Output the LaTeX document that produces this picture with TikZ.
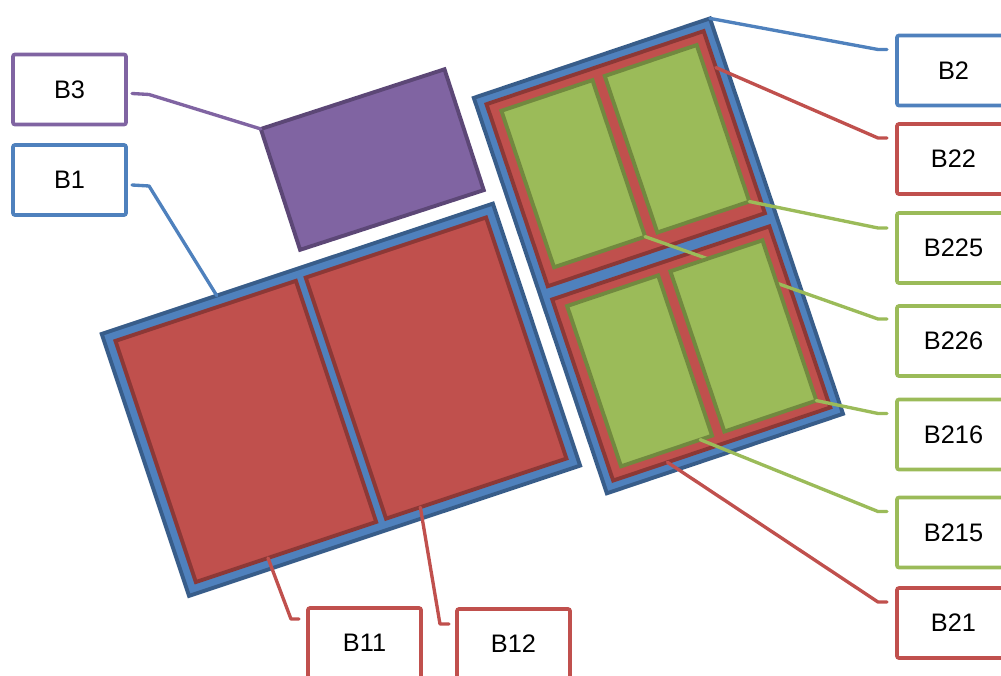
\documentclass[tikz,border=0pt]{standalone}
\usepackage{fontspec}
\setmainfont{Liberation Sans}
\usetikzlibrary{calc}

\definecolor{bfill}{HTML}{4F81BD}
\definecolor{bline}{HTML}{385D8A}
\definecolor{rfill}{HTML}{C0504D}
\definecolor{rline}{HTML}{8C3836}
\definecolor{gfill}{HTML}{9BBB59}
\definecolor{gline}{HTML}{71893F}
\definecolor{pfill}{HTML}{8064A2}
\definecolor{pline}{HTML}{5C4776}

\tikzset{
  piece/.style={rectangle, inner sep=0pt, outer sep=0pt, line width=1.1pt},
  bluepiece/.style={piece, fill=bfill, draw=bline},
  redpiece/.style={piece, fill=rfill, draw=rline},
  greenpiece/.style={piece, fill=gfill, draw=gline},
  purplepiece/.style={piece, fill=pfill, draw=pline},
  tag/.style={rectangle, draw=#1, fill=white, line width=1.05pt,
    rounded corners=0.6pt, minimum width=1.13cm, minimum height=0.70cm,
    inner sep=0pt, outer sep=0pt, font=\fontsize{7.2pt}{8.6pt}\selectfont},
  lead/.style={draw=#1, line width=0.95pt, line cap=round, line join=round},
}

\begin{document}
\begin{tikzpicture}[x=0.01cm, y=-0.01cm]
\useasboundingbox (0,0) rectangle (1001,675);
\clip (0,0) rectangle (1001,675);

% callout labels
\node[tag=pfill] (L3)   at (69.5,89.5)  {B3};
\node[tag=bfill] (L1)   at (69.5,180)   {B1};
\node[tag=bfill] (L2)   at (953.5,70.5) {B2};
\node[tag=rfill] (L22)  at (953.5,159)  {B22};
\node[tag=gfill] (L225) at (953.5,248)  {B225};
\node[tag=gfill] (L226) at (953.5,341)  {B226};
\node[tag=gfill] (L216) at (953.5,434.5){B216};
\node[tag=gfill] (L215) at (953.5,532.5){B215};
\node[tag=rfill] (L21)  at (953.5,623)  {B21};
\node[tag=rfill] (L11)  at (364.5,643)  {B11};
\node[tag=rfill] (L12)  at (513.5,644)  {B12};

% block B3
\begin{scope}[shift={(259,128)}, rotate=18, transform shape]
  \node[purplepiece, minimum width=1.93cm, minimum height=1.27cm] (S3) at (98,65) {};
\end{scope}

% block B1 with B11 and B12
\begin{scope}[shift={(100,333)}, rotate=18.43, transform shape]
  \node[bluepiece, minimum width=4.12cm, minimum height=2.76cm] (S1) at (207.5,139.5) {};
  \node[redpiece, minimum width=1.90cm, minimum height=2.54cm] (S11) at (107.25,139.5) {};
  \node[redpiece, minimum width=1.90cm, minimum height=2.54cm] (S12) at (307.75,139.5) {};
\end{scope}

% block B2 with B22 and B21
\begin{scope}[shift={(472,97)}, rotate=18.6, transform shape]
  \node[bluepiece, minimum width=2.49cm, minimum height=4.17cm] (S2) at (126,210) {};
  \node[redpiece, minimum width=2.29cm, minimum height=1.92cm] (S22) at (126,107.5) {};
  \node[redpiece, minimum width=2.29cm, minimum height=1.91cm] (S21) at (126,313) {};
  \node[greenpiece, minimum width=0.96cm, minimum height=1.65cm] (S226) at (71.5,105) {};
  \node[greenpiece, minimum width=0.97cm, minimum height=1.65cm] (S225) at (181,105) {};
  \node[greenpiece, minimum width=0.96cm, minimum height=1.69cm] (S215) at (71.5,313) {};
\end{scope}

% the B226 lead runs beneath B216
\draw[lead=gfill] (S226.south east) -- ($(L226.north west)+(-19,13)$) -- ($(L226.north west)+(-10,13)$);

\begin{scope}[shift={(472,97)}, rotate=18.6, transform shape]
  \node[greenpiece, minimum width=0.97cm, minimum height=1.69cm] (S216) at (181,313) {};
\end{scope}

% remaining leads
\draw[lead=pfill] ($(L3.north east)+(6,39)$) -- ($(L3.north east)+(23,40)$) -- (S3.north west);
\draw[lead=bfill] ($(L1.north east)+(6,40)$) -- ($(L1.north east)+(23,41)$) -- ($(S1.north west)!0.294!(S1.north east)$);
\draw[lead=bfill] (S2.north east) -- ($(L2.north west)+(-19,14)$) -- ($(L2.north west)+(-10,14)$);
\draw[lead=rfill] ($(S22.north east)!0.2!(S22.south east)$) -- ($(L22.north west)+(-19,14)$) -- ($(L22.north west)+(-10,14)$);
\draw[lead=gfill] (S225.south east) -- ($(L225.north west)+(-19,15)$) -- ($(L225.north west)+(-10,15)$);
\draw[lead=gfill] (S216.south east) -- ($(L216.north west)+(-19,14)$) -- ($(L216.north west)+(-10,14)$);
\draw[lead=gfill] ($(S215.south west)!0.87!(S215.south east)$) -- ($(L215.north west)+(-19,14)$) -- ($(L215.north west)+(-10,14)$);
\draw[lead=rfill] ($(S21.south west)!0.25!(S21.south east)$) -- ($(L21.north west)+(-19,14)$) -- ($(L21.north west)+(-10,14)$);
\draw[lead=rfill] ($(S11.south west)!0.4!(S11.south east)$) -- ($(L11.north west)+(-17,11)$) -- ($(L11.north west)+(-9,11)$);
\draw[lead=rfill] ($(S12.south west)!0.19!(S12.south east)$) -- ($(L12.north west)+(-17,15)$) -- ($(L12.north west)+(-8,15)$);
\end{tikzpicture}
\end{document}
